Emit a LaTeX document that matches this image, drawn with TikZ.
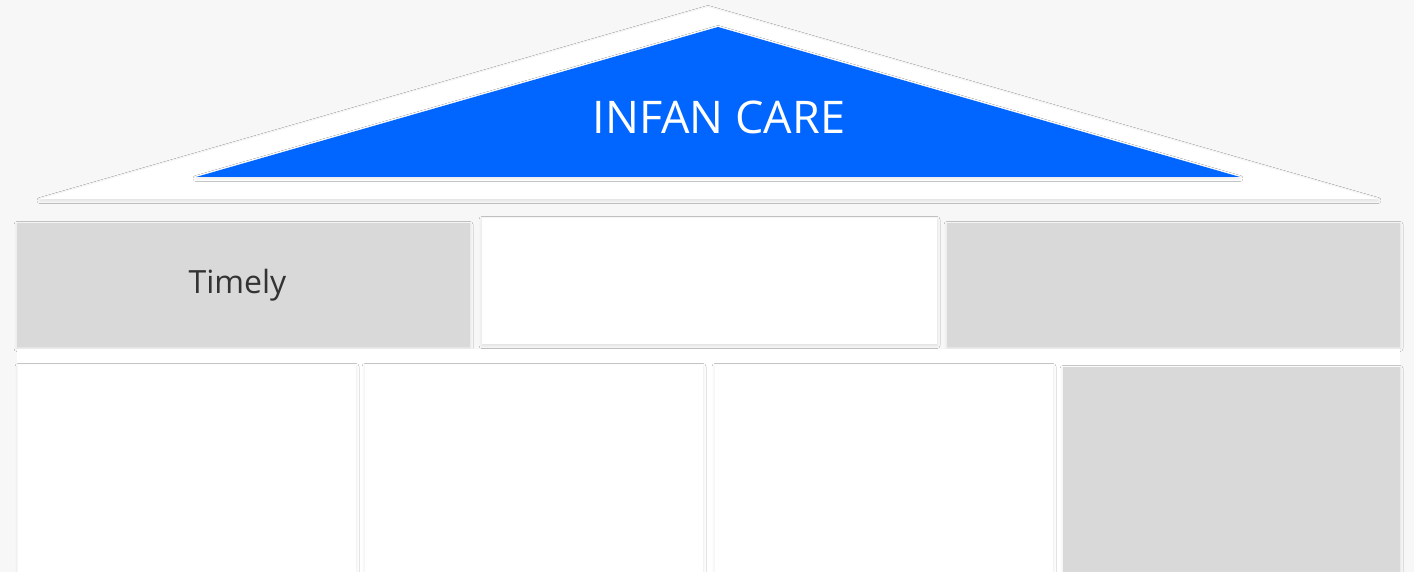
\documentclass[tikz,border=0pt]{standalone}
\usepackage{fontspec}
\setmainfont{Open Sans}
\usepackage{tikz}
\usetikzlibrary{shadows.blur}

\definecolor{pagebg}{HTML}{F7F7F7}
\definecolor{roofblue}{HTML}{0066FF}
\definecolor{pillargray}{HTML}{D9D9D9}
\definecolor{labeltext}{HTML}{333333}

\begin{document}
\begin{tikzpicture}[
        x=1pt, y=-1pt,
        softshadow/.style={
            blur shadow={shadow xshift=0pt, shadow yshift=-1.5pt,
                shadow blur radius=3pt, shadow opacity=10}
        },
        block/.style={
            softshadow,
            inner sep=0pt,
            fill=white
        },
        beam/.style={block, minimum width=453pt, minimum height=124pt},
        pillar/.style={block, minimum width=338pt, minimum height=236pt},
        grayblock/.style={fill=pillargray},
        title/.style={
            text=white,
            font=\fontsize{45}{50}\selectfont
        },
        caption/.style={
            text=labeltext,
            font=\fontsize{32}{36}\selectfont
        }
    ]

    \fill[pagebg] (0,0) rectangle (1414,572);
    \useasboundingbox (0,0) rectangle (1414,572);
    \clip (0,0) rectangle (1414,572);

    % roof
    \fill[white, softshadow] (708,7) -- (1378,199) -- (40,199) -- cycle;
    \fill[roofblue, softshadow] (718,27) -- (1240,177) -- (196,177) -- cycle;
    \node[title] (roof) at (719,117) {INFAN CARE};

    % beam row
    \node[beam, grayblock, label={[caption, xshift=-6pt]center:Timely}] (timely) at (243.5,285) {};
    \node[beam, minimum width=455pt, minimum height=126pt] (middle) at (709.5,281) {};
    \node[beam, grayblock] (right) at (1173.5,285) {};

    % pillars
    \fill[white] (17,349) rectangle (1400,600);
    \node[pillar] (pillarA) at (187,483) {};
    \node[pillar] (pillarB) at (534,483) {};
    \node[pillar] (pillarC) at (884,483) {};
    \node[pillar, grayblock, minimum width=337pt] (pillarD) at (1231.5,485) {};

\end{tikzpicture}
\end{document}
